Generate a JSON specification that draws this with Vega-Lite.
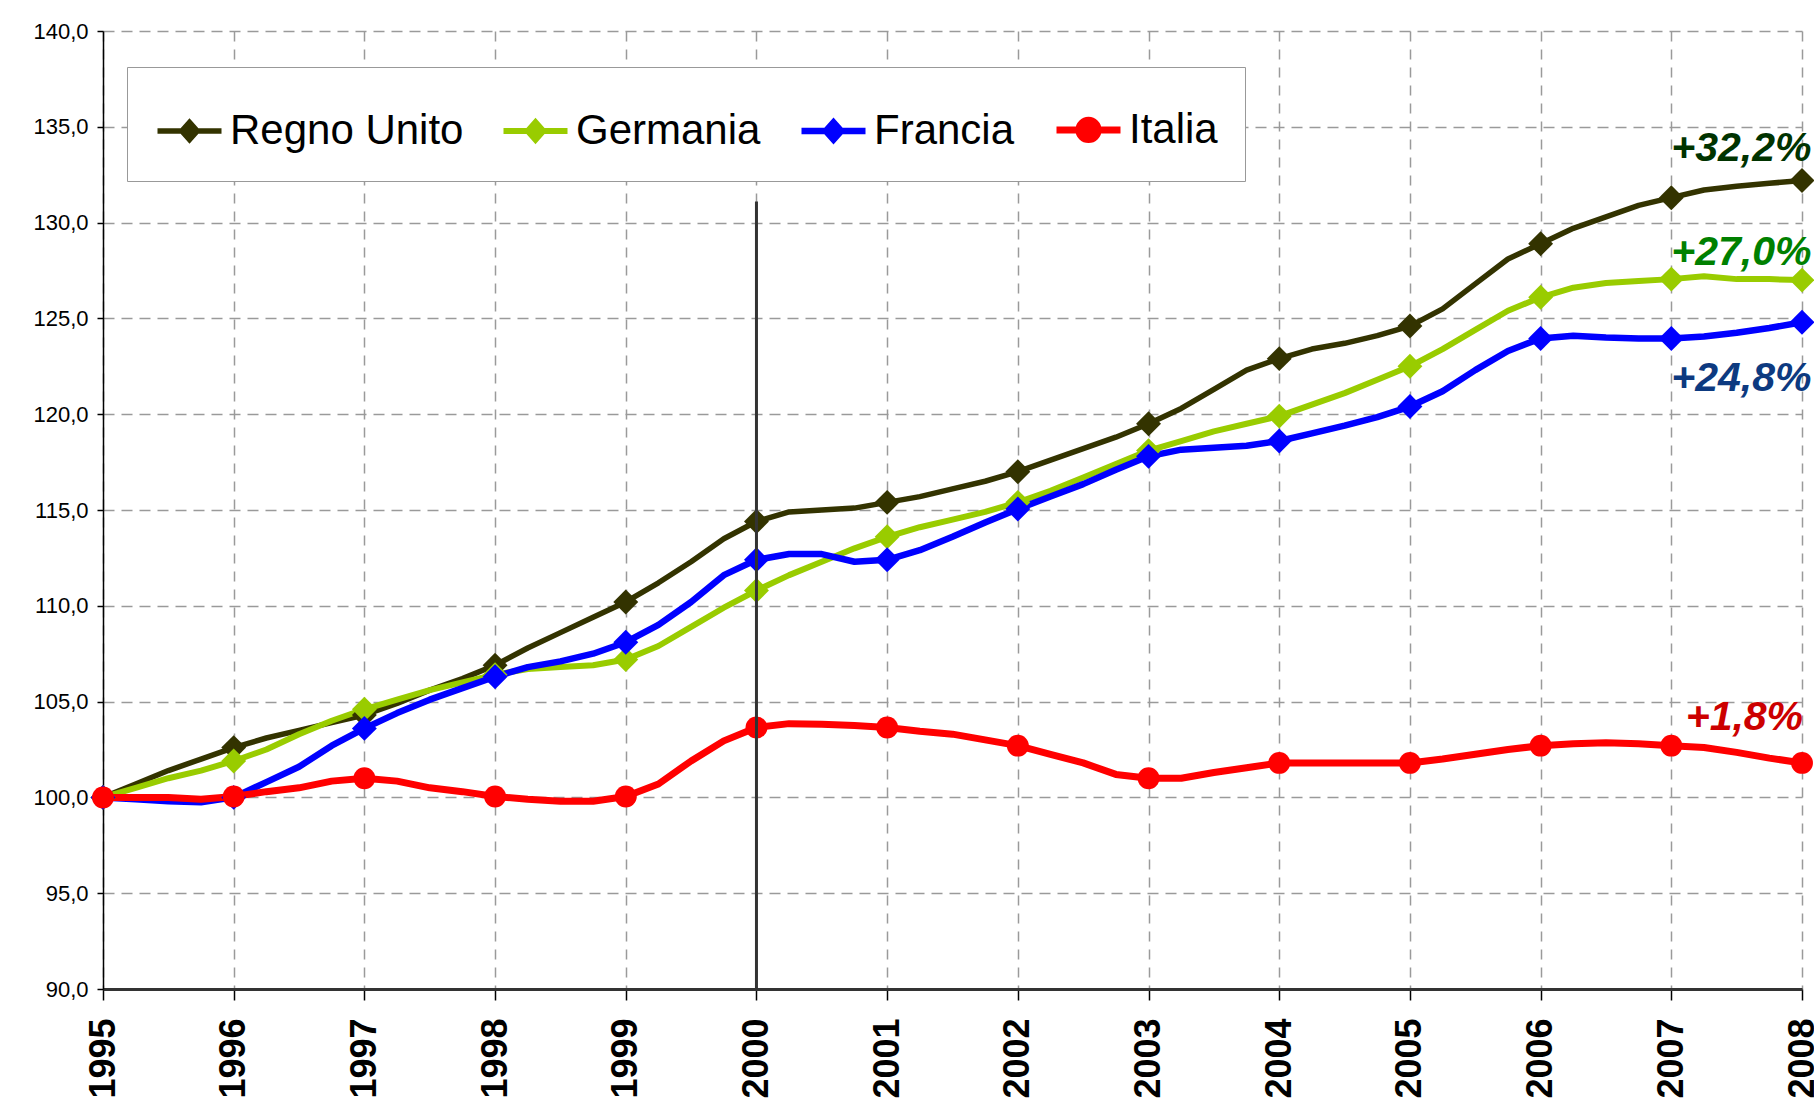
{
  "$schema": "https://vega.github.io/schema/vega-lite/v6.json",
  "width": 1699,
  "height": 958,
  "autosize": {"type": "none"},
  "padding": {"left": 103, "top": 31, "right": 12, "bottom": 111},
  "background": "white",
  "config": {
    "font": "Liberation Sans",
    "view": {"stroke": null},
    "axis": {"gridColor": "#9a9a9a", "gridWidth": 1.5, "labelColor": "black", "tickColor": "black"}
  },
  "datasets": {
    "series": [
      {"s":"Regno Unito","t":1995.00,"v":100.0},{"s":"Regno Unito","t":1995.25,"v":100.7},{"s":"Regno Unito","t":1995.50,"v":101.4},{"s":"Regno Unito","t":1995.75,"v":102.0},
      {"s":"Regno Unito","t":1996.00,"v":102.6},{"s":"Regno Unito","t":1996.25,"v":103.1},{"s":"Regno Unito","t":1996.50,"v":103.5},{"s":"Regno Unito","t":1996.75,"v":103.9},
      {"s":"Regno Unito","t":1997.00,"v":104.3},{"s":"Regno Unito","t":1997.25,"v":104.9},{"s":"Regno Unito","t":1997.50,"v":105.6},{"s":"Regno Unito","t":1997.75,"v":106.2},
      {"s":"Regno Unito","t":1998.00,"v":106.9},{"s":"Regno Unito","t":1998.25,"v":107.8},{"s":"Regno Unito","t":1998.50,"v":108.6},{"s":"Regno Unito","t":1998.75,"v":109.4},
      {"s":"Regno Unito","t":1999.00,"v":110.2},{"s":"Regno Unito","t":1999.25,"v":111.2},{"s":"Regno Unito","t":1999.50,"v":112.3},{"s":"Regno Unito","t":1999.75,"v":113.5},
      {"s":"Regno Unito","t":2000.00,"v":114.4},{"s":"Regno Unito","t":2000.25,"v":114.9},{"s":"Regno Unito","t":2000.50,"v":115.0},{"s":"Regno Unito","t":2000.75,"v":115.1},
      {"s":"Regno Unito","t":2001.00,"v":115.4},{"s":"Regno Unito","t":2001.25,"v":115.7},{"s":"Regno Unito","t":2001.50,"v":116.1},{"s":"Regno Unito","t":2001.75,"v":116.5},
      {"s":"Regno Unito","t":2002.00,"v":117.0},{"s":"Regno Unito","t":2002.25,"v":117.6},{"s":"Regno Unito","t":2002.50,"v":118.2},{"s":"Regno Unito","t":2002.75,"v":118.8},
      {"s":"Regno Unito","t":2003.00,"v":119.5},{"s":"Regno Unito","t":2003.25,"v":120.3},{"s":"Regno Unito","t":2003.50,"v":121.3},{"s":"Regno Unito","t":2003.75,"v":122.3},
      {"s":"Regno Unito","t":2004.00,"v":122.9},{"s":"Regno Unito","t":2004.25,"v":123.4},{"s":"Regno Unito","t":2004.50,"v":123.7},{"s":"Regno Unito","t":2004.75,"v":124.1},
      {"s":"Regno Unito","t":2005.00,"v":124.6},{"s":"Regno Unito","t":2005.25,"v":125.5},{"s":"Regno Unito","t":2005.50,"v":126.8},{"s":"Regno Unito","t":2005.75,"v":128.1},
      {"s":"Regno Unito","t":2006.00,"v":128.9},{"s":"Regno Unito","t":2006.25,"v":129.7},{"s":"Regno Unito","t":2006.50,"v":130.3},{"s":"Regno Unito","t":2006.75,"v":130.9},
      {"s":"Regno Unito","t":2007.00,"v":131.3},{"s":"Regno Unito","t":2007.25,"v":131.7},{"s":"Regno Unito","t":2007.50,"v":131.9},{"s":"Regno Unito","t":2007.75,"v":132.05},
      {"s":"Regno Unito","t":2008.00,"v":132.2},

      {"s":"Germania","t":1995.00,"v":100.0},{"s":"Germania","t":1995.25,"v":100.5},{"s":"Germania","t":1995.50,"v":101.0},{"s":"Germania","t":1995.75,"v":101.4},
      {"s":"Germania","t":1996.00,"v":101.9},{"s":"Germania","t":1996.25,"v":102.5},{"s":"Germania","t":1996.50,"v":103.3},{"s":"Germania","t":1996.75,"v":104.0},
      {"s":"Germania","t":1997.00,"v":104.6},{"s":"Germania","t":1997.25,"v":105.1},{"s":"Germania","t":1997.50,"v":105.6},{"s":"Germania","t":1997.75,"v":106.0},
      {"s":"Germania","t":1998.00,"v":106.4},{"s":"Germania","t":1998.25,"v":106.7},{"s":"Germania","t":1998.50,"v":106.8},{"s":"Germania","t":1998.75,"v":106.9},
      {"s":"Germania","t":1999.00,"v":107.2},{"s":"Germania","t":1999.25,"v":107.9},{"s":"Germania","t":1999.50,"v":108.9},{"s":"Germania","t":1999.75,"v":109.9},
      {"s":"Germania","t":2000.00,"v":110.8},{"s":"Germania","t":2000.25,"v":111.6},{"s":"Germania","t":2000.50,"v":112.3},{"s":"Germania","t":2000.75,"v":113.0},
      {"s":"Germania","t":2001.00,"v":113.6},{"s":"Germania","t":2001.25,"v":114.1},{"s":"Germania","t":2001.50,"v":114.5},{"s":"Germania","t":2001.75,"v":114.9},
      {"s":"Germania","t":2002.00,"v":115.4},{"s":"Germania","t":2002.25,"v":116.0},{"s":"Germania","t":2002.50,"v":116.7},{"s":"Germania","t":2002.75,"v":117.4},
      {"s":"Germania","t":2003.00,"v":118.1},{"s":"Germania","t":2003.25,"v":118.6},{"s":"Germania","t":2003.50,"v":119.1},{"s":"Germania","t":2003.75,"v":119.5},
      {"s":"Germania","t":2004.00,"v":119.9},{"s":"Germania","t":2004.25,"v":120.5},{"s":"Germania","t":2004.50,"v":121.1},{"s":"Germania","t":2004.75,"v":121.8},
      {"s":"Germania","t":2005.00,"v":122.5},{"s":"Germania","t":2005.25,"v":123.4},{"s":"Germania","t":2005.50,"v":124.4},{"s":"Germania","t":2005.75,"v":125.4},
      {"s":"Germania","t":2006.00,"v":126.1},{"s":"Germania","t":2006.25,"v":126.6},{"s":"Germania","t":2006.50,"v":126.85},{"s":"Germania","t":2006.75,"v":126.95},
      {"s":"Germania","t":2007.00,"v":127.05},{"s":"Germania","t":2007.25,"v":127.2},{"s":"Germania","t":2007.50,"v":127.05},{"s":"Germania","t":2007.75,"v":127.05},
      {"s":"Germania","t":2008.00,"v":127.0},

      {"s":"Francia","t":1995.00,"v":100.0},{"s":"Francia","t":1995.25,"v":99.9},{"s":"Francia","t":1995.50,"v":99.8},{"s":"Francia","t":1995.75,"v":99.75},
      {"s":"Francia","t":1996.00,"v":100.0},{"s":"Francia","t":1996.25,"v":100.8},{"s":"Francia","t":1996.50,"v":101.6},{"s":"Francia","t":1996.75,"v":102.7},
      {"s":"Francia","t":1997.00,"v":103.6},{"s":"Francia","t":1997.25,"v":104.4},{"s":"Francia","t":1997.50,"v":105.1},{"s":"Francia","t":1997.75,"v":105.7},
      {"s":"Francia","t":1998.00,"v":106.3},{"s":"Francia","t":1998.25,"v":106.8},{"s":"Francia","t":1998.50,"v":107.1},{"s":"Francia","t":1998.75,"v":107.5},
      {"s":"Francia","t":1999.00,"v":108.1},{"s":"Francia","t":1999.25,"v":109.0},{"s":"Francia","t":1999.50,"v":110.2},{"s":"Francia","t":1999.75,"v":111.6},
      {"s":"Francia","t":2000.00,"v":112.4},{"s":"Francia","t":2000.25,"v":112.7},{"s":"Francia","t":2000.50,"v":112.7},{"s":"Francia","t":2000.75,"v":112.3},
      {"s":"Francia","t":2001.00,"v":112.4},{"s":"Francia","t":2001.25,"v":112.9},{"s":"Francia","t":2001.50,"v":113.6},{"s":"Francia","t":2001.75,"v":114.35},
      {"s":"Francia","t":2002.00,"v":115.05},{"s":"Francia","t":2002.25,"v":115.7},{"s":"Francia","t":2002.50,"v":116.35},{"s":"Francia","t":2002.75,"v":117.1},
      {"s":"Francia","t":2003.00,"v":117.8},{"s":"Francia","t":2003.25,"v":118.15},{"s":"Francia","t":2003.50,"v":118.25},{"s":"Francia","t":2003.75,"v":118.35},
      {"s":"Francia","t":2004.00,"v":118.6},{"s":"Francia","t":2004.25,"v":119.0},{"s":"Francia","t":2004.50,"v":119.4},{"s":"Francia","t":2004.75,"v":119.85},
      {"s":"Francia","t":2005.00,"v":120.4},{"s":"Francia","t":2005.25,"v":121.2},{"s":"Francia","t":2005.50,"v":122.3},{"s":"Francia","t":2005.75,"v":123.3},
      {"s":"Francia","t":2006.00,"v":123.95},{"s":"Francia","t":2006.25,"v":124.1},{"s":"Francia","t":2006.50,"v":124.0},{"s":"Francia","t":2006.75,"v":123.95},
      {"s":"Francia","t":2007.00,"v":123.95},{"s":"Francia","t":2007.25,"v":124.05},{"s":"Francia","t":2007.50,"v":124.25},{"s":"Francia","t":2007.75,"v":124.5},
      {"s":"Francia","t":2008.00,"v":124.8},

      {"s":"Italia","t":1995.00,"v":100.0},{"s":"Italia","t":1995.25,"v":100.0},{"s":"Italia","t":1995.50,"v":100.0},{"s":"Italia","t":1995.75,"v":99.9},
      {"s":"Italia","t":1996.00,"v":100.05},{"s":"Italia","t":1996.25,"v":100.3},{"s":"Italia","t":1996.50,"v":100.5},{"s":"Italia","t":1996.75,"v":100.85},
      {"s":"Italia","t":1997.00,"v":101.0},{"s":"Italia","t":1997.25,"v":100.85},{"s":"Italia","t":1997.50,"v":100.5},{"s":"Italia","t":1997.75,"v":100.3},
      {"s":"Italia","t":1998.00,"v":100.05},{"s":"Italia","t":1998.25,"v":99.9},{"s":"Italia","t":1998.50,"v":99.8},{"s":"Italia","t":1998.75,"v":99.8},
      {"s":"Italia","t":1999.00,"v":100.05},{"s":"Italia","t":1999.25,"v":100.7},{"s":"Italia","t":1999.50,"v":101.9},{"s":"Italia","t":1999.75,"v":102.95},
      {"s":"Italia","t":2000.00,"v":103.65},{"s":"Italia","t":2000.25,"v":103.85},{"s":"Italia","t":2000.50,"v":103.82},{"s":"Italia","t":2000.75,"v":103.75},
      {"s":"Italia","t":2001.00,"v":103.65},{"s":"Italia","t":2001.25,"v":103.45},{"s":"Italia","t":2001.50,"v":103.3},{"s":"Italia","t":2001.75,"v":103.0},
      {"s":"Italia","t":2002.00,"v":102.7},{"s":"Italia","t":2002.25,"v":102.25},{"s":"Italia","t":2002.50,"v":101.8},{"s":"Italia","t":2002.75,"v":101.2},
      {"s":"Italia","t":2003.00,"v":101.0},{"s":"Italia","t":2003.25,"v":101.0},{"s":"Italia","t":2003.50,"v":101.3},{"s":"Italia","t":2003.75,"v":101.55},
      {"s":"Italia","t":2004.00,"v":101.8},{"s":"Italia","t":2004.25,"v":101.8},{"s":"Italia","t":2004.50,"v":101.8},{"s":"Italia","t":2004.75,"v":101.8},
      {"s":"Italia","t":2005.00,"v":101.8},{"s":"Italia","t":2005.25,"v":102.0},{"s":"Italia","t":2005.50,"v":102.25},{"s":"Italia","t":2005.75,"v":102.5},
      {"s":"Italia","t":2006.00,"v":102.7},{"s":"Italia","t":2006.25,"v":102.8},{"s":"Italia","t":2006.50,"v":102.85},{"s":"Italia","t":2006.75,"v":102.8},
      {"s":"Italia","t":2007.00,"v":102.7},{"s":"Italia","t":2007.25,"v":102.6},{"s":"Italia","t":2007.50,"v":102.35},{"s":"Italia","t":2007.75,"v":102.05},
      {"s":"Italia","t":2008.00,"v":101.8}
    ],
    "notes": [
      {"label":"+32,2%","t":2007.0,"v":133.2},
      {"label":"+27,0%","t":2007.0,"v":127.8},
      {"label":"+24,8%","t":2007.0,"v":121.2},
      {"label":"+1,8%","t":2007.11,"v":103.5}
    ],
    "marker": [
      {"t":2000,"v0":90,"v1":131.1}
    ]
  },
  "layer": [
    {
      "data": {"name": "series"},
      "mark": {"type": "line", "strokeJoin": "round", "strokeCap": "round"},
      "encoding": {
        "x": {
          "field": "t", "type": "quantitative", "title": null,
          "scale": {"domain": [1995, 2008], "nice": false, "zero": false},
          "axis": {
            "values": [1995,1996,1997,1998,1999,2000,2001,2002,2003,2004,2005,2006,2007,2008],
            "format": "d", "labelAngle": -90, "labelFont": "Liberation Sans", "labelFontWeight": "bold",
            "labelFontSize": 36, "labelPadding": 18, "tickSize": 11, "tickWidth": 1.5,
            "domainColor": "#333333", "domainWidth": 3, "grid": true, "gridDash": [10, 8],
            "labelOverlap": false, "labelBound": false, "labelFlush": false
          }
        },
        "y": {
          "field": "v", "type": "quantitative", "title": null,
          "scale": {"domain": [90, 140], "nice": false, "zero": false},
          "axis": {
            "values": [90,95,100,105,110,115,120,125,130,135,140],
            "labelExpr": "replace(format(datum.value, '.1f'), '.', ',')",
            "labelFont": "Liberation Sans", "labelFontSize": 22, "labelPadding": 9,
            "tickSize": 6, "tickWidth": 1.5, "domainColor": "black", "domainWidth": 1.5,
            "grid": true, "gridDash": [11, 7], "labelOverlap": false
          }
        },
        "color": {
          "field": "s", "type": "nominal",
          "scale": {"domain": ["Regno Unito", "Germania", "Francia", "Italia"], "range": ["#333300", "#99cc00", "#0000ff", "#ff0000"]},
          "legend": {
            "title": null, "orient": "none", "legendX": 24, "legendY": 36, "direction": "horizontal", "columns": 4,
            "symbolType": "M-1,0L1,0M0,-0.27L0.24,0L0,0.27L-0.24,0Z",
            "symbolSize": 4096, "symbolStrokeWidth": 7,
            "labelFont": "Liberation Sans", "labelFontSize": 42, "labelColor": "black", "labelOffset": 5,
            "labelLimit": 0, "columnPadding": 27, "padding": 27,
            "strokeColor": "#999999", "fillColor": "white",
            "encode": {
              "symbols": {
                "update": {
                  "shape": {"signal": "datum.value === 'Italia' ? 'M-1,0L1,0M-0.3,0A0.3,0.3 0 1,0 0.3,0A0.3,0.3 0 1,0 -0.3,0Z' : 'M-1,0L1,0M0,-0.27L0.24,0L0,0.27L-0.24,0Z'"},
                  "fill": {"scale": "color", "field": "value"},
                  "stroke": {"scale": "color", "field": "value"},
                  "strokeWidth": {"value": 7},
                  "opacity": {"value": 1},
                  "fillOpacity": {"value": 1},
                  "strokeDash": {"value": []}
                }
              }
            }
          }
        },
        "strokeWidth": {
          "field": "s", "type": "nominal",
          "scale": {"domain": ["Regno Unito", "Germania", "Francia", "Italia"], "range": [5.5, 7, 7, 7.5]},
          "legend": null
        }
      }
    },
    {
      "data": {"name": "series"},
      "transform": [{"filter": "datum.t == floor(datum.t) && datum.s != 'Italia'"}],
      "mark": {"type": "point", "shape": "diamond", "filled": true, "opacity": 1, "size": 620, "strokeWidth": 0},
      "encoding": {
        "x": {"field": "t", "type": "quantitative", "title": null},
        "y": {"field": "v", "type": "quantitative", "title": null},
        "color": {"field": "s", "type": "nominal"}
      }
    },
    {
      "data": {"name": "series"},
      "transform": [{"filter": "datum.t == floor(datum.t) && datum.s == 'Italia'"}],
      "mark": {"type": "point", "shape": "circle", "filled": true, "opacity": 1, "size": 480, "strokeWidth": 0},
      "encoding": {
        "x": {"field": "t", "type": "quantitative", "title": null},
        "y": {"field": "v", "type": "quantitative", "title": null},
        "color": {"field": "s", "type": "nominal"}
      }
    },
    {
      "data": {"name": "marker"},
      "mark": {"type": "rule", "color": "#333333", "strokeWidth": 3},
      "encoding": {
        "x": {"field": "t", "type": "quantitative", "title": null},
        "y": {"field": "v0", "type": "quantitative", "title": null},
        "y2": {"field": "v1"}
      }
    },
    {
      "data": {"name": "notes"},
      "mark": {"type": "text", "align": "left", "baseline": "alphabetic", "font": "Liberation Sans", "fontSize": 41, "fontWeight": "bold", "fontStyle": "italic"},
      "encoding": {
        "x": {"field": "t", "type": "quantitative", "title": null},
        "y": {"field": "v", "type": "quantitative", "title": null},
        "text": {"field": "label"},
        "fill": {
          "field": "label", "type": "nominal",
          "scale": {"domain": ["+32,2%", "+27,0%", "+24,8%", "+1,8%"], "range": ["#003300", "#008000", "#0d3a80", "#cc0000"]},
          "legend": null
        }
      }
    }
  ]
}
